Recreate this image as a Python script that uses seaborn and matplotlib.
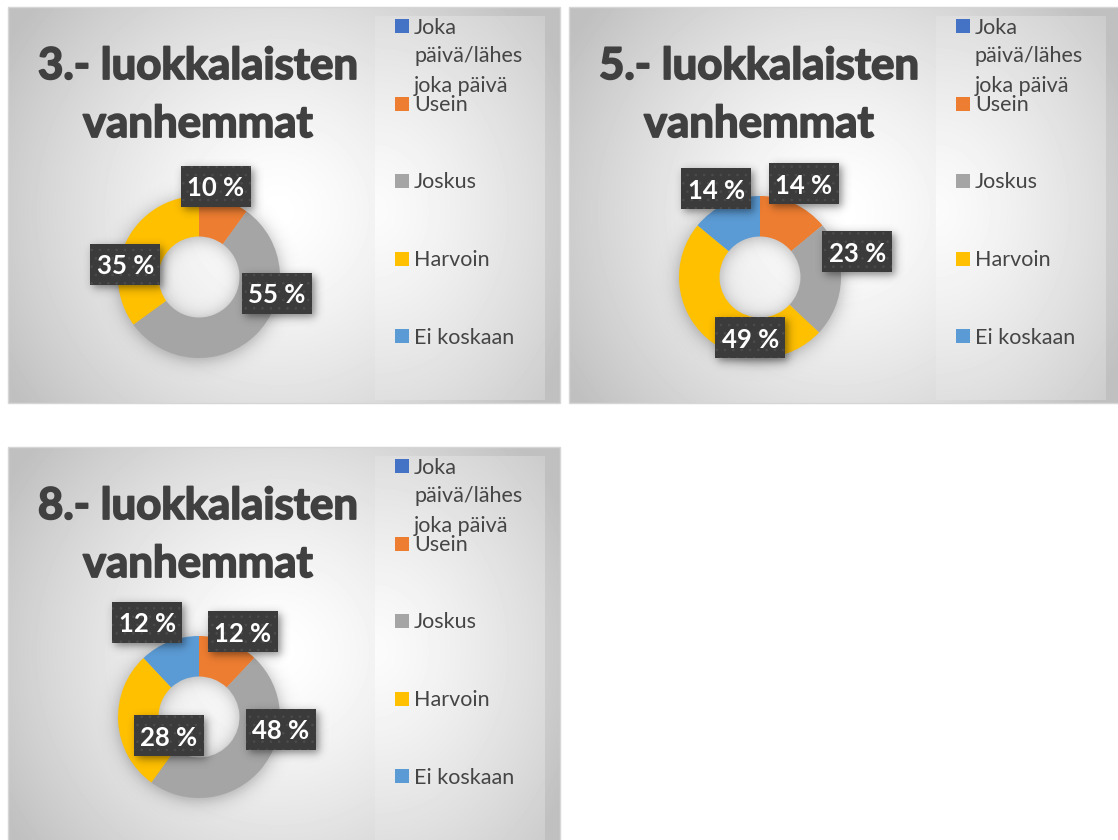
import numpy as np
import matplotlib
matplotlib.use("Agg")
import matplotlib.pyplot as plt
import matplotlib.patheffects as pe
from matplotlib.patches import Rectangle
import seaborn as sns

# ---- data -------------------------------------------------------------
categories = ["Joka\npäivä/lähes\njoka päivä", "Usein", "Joskus", "Harvoin", "Ei koskaan"]
grade3 = [0, 10, 55, 35, 0]
grade5 = [0, 14, 23, 49, 14]
grade8 = [0, 12, 48, 28, 12]
titles = ["3.- luokkalaisten\nvanhemmat",
          "5.- luokkalaisten\nvanhemmat",
          "8.- luokkalaisten\nvanhemmat"]
series = [grade3, grade5, grade8]

# ---- style ------------------------------------------------------------
sns.set_theme(style="white")
palette = sns.color_palette(["#4472C4", "#ED7D31", "#A5A5A5", "#FFC000", "#5B9BD5"])
plt.rcParams["font.family"] = ["Lato", "DejaVu Sans"]
plt.rcParams["hatch.linewidth"] = 0.6

TITLE_COLOR = "#404040"
LEGEND_COLOR = "#454545"

# ---- layout (pixels) --------------------------------------------------
W, H = 1118, 840
PANEL_W, PANEL_H = 552, 396
panel_origin = [(8, 7), (569, 7), (8, 447)]
CX, CY, R = 191, 270, 81        # donut centre / radius inside a panel
HOLE = 0.5                      # ring width as a fraction of the radius
BOX_W, BOX_H = 70, 41           # data-label box

# data-label anchors, in units of the donut radius (x right, y up)
label_anchor = [
    {1: (0.21, 1.12), 2: (0.96, -0.20), 3: (-0.91, 0.16)},
    {1: (0.54, 1.15), 2: (1.20, 0.31), 3: (-0.12, -0.75), 4: (-0.54, 1.09)},
    {1: (0.54, 1.05), 2: (1.01, -0.15), 3: (-0.37, -0.23), 4: (-0.64, 1.17)},
]


def sig(z):
    return 1.0 / (1.0 + np.exp(-z))


fig = plt.figure(figsize=(W / 100, H / 100), dpi=100)
fig.patch.set_facecolor("white")
bg = fig.add_axes([0, 0, 1, 1], zorder=0)
ov = fig.add_axes([0, 0, 1, 1], zorder=2)
for a in (bg, ov):
    a.set_xlim(0, W)
    a.set_ylim(H, 0)
    a.set_axis_off()
    a.set_autoscale_on(False)


def gray_image(ax, v, x0, y0, w, h, zorder=0):
    ax.imshow(v, cmap="gray", vmin=0, vmax=1, extent=(x0, x0 + w, y0 + h, y0),
              aspect="auto", interpolation="bilinear", zorder=zorder)


def soft_rect(ax, x0, y0, w, h, s, alpha, zorder=1):
    pad = 4 * s
    xs = np.arange(x0 - pad, x0 + w + pad) + 0.5
    ys = np.arange(y0 - pad, y0 + h + pad) + 0.5
    X, Y = np.meshgrid(xs, ys)
    a = alpha * sig((X - x0) / s) * sig((x0 + w - X) / s) * sig((Y - y0) / s) * sig((y0 + h - Y) / s)
    rgba = np.zeros(X.shape + (4,))
    rgba[..., 3] = a
    ax.imshow(rgba, extent=(xs[0] - 0.5, xs[-1] + 0.5, ys[-1] + 0.5, ys[0] - 0.5),
              aspect="auto", interpolation="bilinear", zorder=zorder)


def ring_shadow(ax, cx, cy):
    ext = R + 30
    xs = np.arange(-ext, ext) + 0.5
    X, Y = np.meshgrid(xs, xs)
    d = np.hypot(X, Y - 2)
    s = 5.0
    a = 0.30 * (sig((d - R * (1 - HOLE)) / s) - sig((d - R) / s))
    rgba = np.zeros(X.shape + (4,))
    rgba[..., 3] = a
    ax.imshow(rgba, extent=(cx - ext, cx + ext, cy + ext, cy - ext),
              aspect="auto", interpolation="bilinear", zorder=2)


for p, (x0, y0) in enumerate(panel_origin):
    values = series[p]

    # chart area: soft radial gradient
    X, Y = np.meshgrid(np.arange(PANEL_W) + 0.5, np.arange(PANEL_H) + 0.5)
    d = np.hypot(X - 270, Y - 205) / 320
    gray_image(bg, 1 - 0.25 * np.clip(d, 0, 1) ** 1.4, x0, y0, PANEL_W, PANEL_H)

    # legend area
    lx0, lx1, ly0, ly1 = 367, 537, 9, 393
    X, Y = np.meshgrid(np.arange(lx1 - lx0) + 0.5, np.arange(ly1 - ly0) + 0.5)
    d = np.hypot(X / 175, (Y - 195) / 215)
    gray_image(bg, np.clip(0.985 - 0.13 * d ** 1.3, 0.78, 1), x0 + lx0, y0 + ly0,
               lx1 - lx0, ly1 - ly0, zorder=1)
    bg.add_patch(Rectangle((x0, y0), PANEL_W, PANEL_H, fill=False,
                           edgecolor="#d6d6d6", lw=1, zorder=3))

    ring_shadow(bg, x0 + CX, y0 + CY)

    # donut
    left = (x0 + CX - R) / W
    bottom = 1 - (y0 + CY + R) / H
    pax = fig.add_axes([left, bottom, 2 * R / W, 2 * R / H], zorder=1)
    pax.pie(values, colors=palette, startangle=90, counterclock=False, radius=1,
            wedgeprops=dict(width=HOLE, edgecolor="none", linewidth=0))
    pax.set_xlim(-1, 1)
    pax.set_ylim(-1, 1)
    pax.set_axis_off()

    # title
    for i, line in enumerate(titles[p].split("\n")):
        ov.text(x0 + 190, y0 + 72 + 58 * i, line, ha="center", va="baseline",
                fontsize=31.5, fontweight="bold", color=TITLE_COLOR, zorder=5,
                path_effects=[pe.withStroke(linewidth=1.3, foreground=TITLE_COLOR)])

    # legend
    for i, (cat, col) in enumerate(zip(categories, palette)):
        my = y0 + 19 + 77.5 * i
        ov.add_patch(Rectangle((x0 + 387, my - 7), 14, 14, facecolor=col,
                               edgecolor="none", zorder=5))
        for j, line in enumerate(cat.split("\n")):
            ov.text(x0 + 406, my + 7.5 + 29 * j, line, ha="left", va="baseline",
                    fontsize=15.5, color=LEGEND_COLOR, zorder=5)

    # data labels
    for idx, val in enumerate(values):
        if val == 0:
            continue
        ux, uy = label_anchor[p][idx]
        lx = x0 + CX + ux * R
        ly = y0 + CY - uy * R
        soft_rect(ov, lx - BOX_W / 2 + 3, ly - BOX_H / 2 + 3, BOX_W, BOX_H, 2.5, 0.45, zorder=3)
        ov.add_patch(Rectangle((lx - BOX_W / 2, ly - BOX_H / 2), BOX_W, BOX_H,
                               facecolor="#3b3b3b", edgecolor="#4c4c4c", lw=0,
                               hatch="..", zorder=4))
        ov.text(lx, ly, f"{val} %", ha="center", va="center_baseline",
                fontsize=18.5, fontweight="bold", color="white", zorder=6)

fig.savefig("out.png", dpi=100)
